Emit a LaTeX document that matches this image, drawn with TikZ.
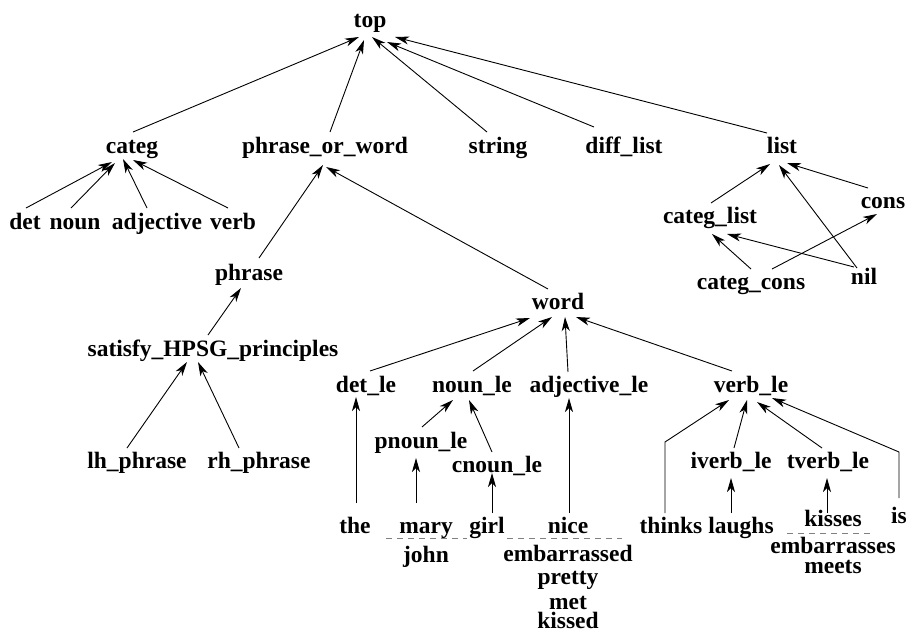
\documentclass[tikz,border=0pt]{standalone}
\usepackage{fontspec}
\setmainfont{Liberation Serif}
\usetikzlibrary{arrows.meta}
\tikzset{
  lbl/.style={anchor=base, inner sep=0pt, font=\bfseries\fontsize{23.5}{28}\selectfont},
  arr/.style={line width=0.9pt, -{Stealth[length=14pt,width=8pt,inset=4pt]}},
  sep/.style={line width=0.7pt, gray, dash pattern=on 6pt off 5pt}
}
\newcommand{\E}[4]{\draw[arr] ([shift={(#2)}]#1.base) -- ([shift={(#4)}]#3.base);}
\begin{document}
\begin{tikzpicture}[x=1pt,y=-1pt]
\useasboundingbox (0,0) rectangle (908,630);
% nodes
\node[lbl] (top) at (370,27) {top};
\node[lbl] (categ) at (132,153) {categ};
\node[lbl] (pow) at (325,153) {phrase\_or\_word};
\node[lbl] (string) at (498,153) {string};
\node[lbl] (difflist) at (624,153) {diff\_list};
\node[lbl] (list) at (782,153) {list};
\node[lbl] (det) at (25,229) {det};
\node[lbl] (noun) at (75,229) {noun};
\node[lbl] (adj) at (157,229) {adjective};
\node[lbl] (verb) at (233,229) {verb};
\node[lbl] (categlist) at (710,223) {categ\_list};
\node[lbl] (cons) at (883,208) {cons};
\node[lbl] (categcons) at (751,289) {categ\_cons};
\node[lbl] (nil) at (864,284) {nil};
\node[lbl] (phrase) at (249,280) {phrase};
\node[lbl] (word) at (558,309) {word};
\node[lbl] (satisfy) at (213,356) {satisfy\_HPSG\_principles};
\node[lbl] (detle) at (366,392) {det\_le};
\node[lbl] (nounle) at (472,392) {noun\_le};
\node[lbl] (adjle) at (589,392) {adjective\_le};
\node[lbl] (verble) at (751,392) {verb\_le};
\node[lbl] (pnounle) at (421,448) {pnoun\_le};
\node[lbl] (cnounle) at (497,472) {cnoun\_le};
\node[lbl] (iverble) at (731,468) {iverb\_le};
\node[lbl] (tverble) at (828,468) {tverb\_le};
\node[lbl] (lh) at (137,468) {lh\_phrase};
\node[lbl] (rh) at (259,468) {rh\_phrase};
\node[lbl] (the) at (355,533) {the};
\node[lbl] (mary) at (426,533) {mary};
\node[lbl] (girl) at (487,533) {girl};
\node[lbl] (nice) at (568,533) {nice};
\node[lbl] (thinks) at (671,533) {thinks};
\node[lbl] (laughs) at (741,533) {laughs};
\node[lbl] (kisses) at (833,526) {kisses};
\node[lbl] (is) at (899,523) {is};
\node[lbl] (john) at (426,562) {john};
\node[lbl] (embarrassed) at (568,561) {embarrassed};
\node[lbl] (pretty) at (568,584) {pretty};
\node[lbl] (met) at (568,609) {met};
\node[lbl] (kissed) at (568,628) {kissed};
\node[lbl] (embarrasses) at (833,553) {embarrasses};
\node[lbl] (meets) at (833,573) {meets};
% edges
\E{categ}{1,-21}{top}{-11,10}
\E{pow}{5,-21}{top}{-6,13}
\E{string}{-11,-21}{top}{2,10}
\E{difflist}{-30,-26}{top}{17,15}
\E{list}{-15,-20}{top}{25,10}
\E{det}{1,-21}{categ}{-20,9}
\E{noun}{-4,-21}{categ}{-17,10}
\E{adj}{-10,-21}{categ}{-9,6}
\E{verb}{-5,-21}{categ}{1,7}
\E{phrase}{10,-22}{pow}{-2,12}
\E{word}{-10,-20}{pow}{1,14}
\E{satisfy}{-5,-21}{phrase}{-8,8}
\E{lh}{-10,-20}{satisfy}{-26,6}
\E{rh}{-20,-20}{satisfy}{-15,6}
\E{categlist}{1,-20}{list}{-12,11}
\E{cons}{-15,-20}{list}{5,10}
\E{nil}{-7,-16}{list}{-3,12}
\E{categcons}{0,-20}{categlist}{2,11}
\E{nil}{-10,-17}{categlist}{17,11}
\E{categcons}{21,-20}{cons}{-6,6}
\E{detle}{4,-21}{word}{-28,9}
\E{nounle}{1,-21}{word}{-6,8}
\E{adjle}{-21,-20}{word}{7,8}
\E{verble}{-19,-21}{word}{18,8}
\E{the}{1,-30}{detle}{-10,5}
\E{pnounle}{1,-21}{nounle}{-19,8}
\E{cnounle}{-5,-20}{nounle}{-3,8}
\E{mary}{-10,-30}{pnounle}{-5,10}
\E{girl}{5,-20}{cnounle}{-5,1}
\E{nice}{1,-20}{adjle}{-20,6}
\E{iverble}{3,-20}{verble}{-4,8}
\E{tverble}{-6,-20}{verble}{6,10}
\E{laughs}{-10,-20}{iverble}{0,10}
\E{kisses}{-6,-13}{tverble}{-1,10}
\draw[arr] ([shift={(-6,-20)}]thinks.base) -- ++(0,-71) -- ([shift={(-22,8)}]verble.base);
\draw[arr] ([shift={(0,-25)}]is.base) -- ++(0,-46) -- ([shift={(21,6)}]verble.base);
% separators
\draw[sep] ([shift={(-40,5)}]mary.base) -- ([shift={(41,5)}]mary.base);
\draw[sep] ([shift={(-61,5)}]nice.base) -- ([shift={(54,5)}]nice.base);
\draw[sep] ([shift={(-46,7)}]kisses.base) -- ([shift={(41,7)}]kisses.base);
\end{tikzpicture}
\end{document}
